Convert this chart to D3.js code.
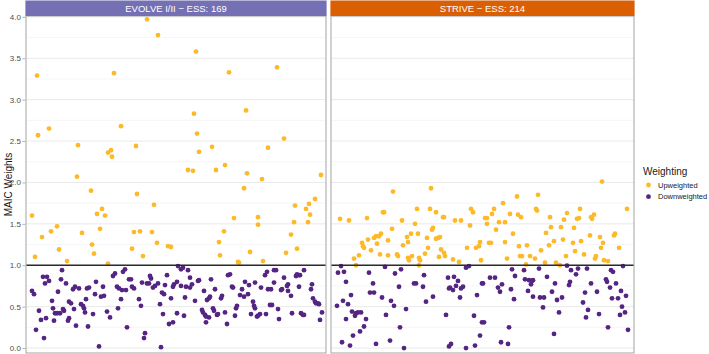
<!DOCTYPE html>
<html>
<head>
<meta charset="utf-8">
<script src="https://cdn.jsdelivr.net/npm/d3@7"></script>
<style>
  body { margin: 0; background: #fff; }
  svg { display: block; font-family: "Liberation Sans", Arial, sans-serif; }
</style>
</head>
<body>
<svg id="chart" width="709" height="354"></svg>
<script>
// facet labels and colours
const trials = ["EVOLVE I/II \u2212 ESS: 169", "STRIVE \u2212 ESS: 214"];
const stripColors = ["#7570B3", "#D95F02"];
const groups = ["Upweighted", "Downweighted"];
const groupColors = ["#FDB927", "#552583"];
const yTicks = [0, 0.5, 1, 1.5, 2, 2.5, 3, 3.5, 4];
const yMinor = [0.25, 0.75, 1.25, 1.75, 2.25, 2.75, 3.25, 3.75];

// [patient position, MAIC weight]
const evolveUp = [
  [11,3.29],[12,2.57],[23,2.65],[6,1.60],[9,1.10],[16,1.34],[25,1.41],[31,1.47],[33,1.19],[41,1.05],
  [52,2.45],[51,2.07],[65,1.90],[56,1.39],[66,1.25],[68,1.14],[71,1.62],[76,1.68],[79,1.60],[74,1.44],
  [82,1.02],[88,3.32],[82,2.36],[85,2.39],[86,2.31],[95,2.68],[110,2.44],[111,1.86],[108,1.40],[114,1.41],
  [106,1.20],[117,1.11],[121,3.97],[132,3.78],[128,1.73],[126,1.40],[131,1.27],[142,1.23],[145,1.22],[170,3.58],
  [168,2.83],[171,2.59],[173,2.37],[162,2.15],[167,2.14],[186,2.43],[190,2.15],[199,2.21],[203,3.33],[220,2.87],
  [221,2.11],[218,1.93],[208,1.57],[198,1.41],[193,1.28],[194,1.12],[212,1.04],[213,1.03],[224,1.16],[232,1.58],
  [232,1.49],[237,1.05],[251,3.39],[258,2.53],[242,2.42],[236,2.04],[269,1.72],[268,1.52],[265,1.37],[260,1.15],
  [271,1.20],[280,1.68],[283,1.74],[284,1.61],[282,1.52],[289,1.80],[295,2.09]
];
const evolveDown = [
  [6,0.69],[8,0.65],[10,0.22],[13,0.45],[15,0.34],[18,0.12],[17,0.86],[19,0.78],[21,0.86],[23,0.81],
  [26,0.57],[27,0.48],[29,0.42],[20,0.36],[28,0.33],[32,0.68],[35,0.83],[36,0.94],[40,0.78],[31,0.42],
  [34,0.42],[37,0.47],[38,0.45],[42,0.33],[43,0.36],[43,0.56],[45,0.54],[48,0.47],[47,0.71],[49,0.74],
  [53,0.72],[50,0.27],[55,0.53],[57,0.51],[58,0.48],[59,0.43],[60,0.59],[61,0.72],[63,0.73],[62,0.26],
  [67,0.41],[69,0.65],[70,0.80],[73,0.02],[75,0.62],[78,0.63],[77,0.74],[81,0.44],[84,0.37],[87,0.87],
  [89,0.90],[91,0.74],[92,0.48],[95,0.59],[93,0.72],[96,0.70],[97,0.92],[99,0.95],[100,0.70],[101,0.25],
  [103,0.83],[105,0.83],[106,0.74],[108,0.72],[113,0.59],[115,0.51],[116,0.79],[119,0.18],[118,0.12],[121,0.78],
  [123,0.78],[124,0.87],[125,0.84],[127,0.73],[129,0.75],[132,0.78],[134,0.53],[135,0.01],[136,0.67],[138,0.65],
  [137,0.41],[139,0.76],[141,0.88],[143,0.29],[147,0.31],[145,0.60],[147,0.74],[148,0.77],[151,0.42],[152,0.99],
  [155,0.95],[157,0.97],[162,0.94],[151,0.80],[155,0.75],[159,0.61],[158,0.39],[164,0.85],[166,0.77],[160,0.74],
  [164,0.73],[169,0.57],[173,0.82],[172,0.81],[176,0.46],[177,0.43],[179,0.40],[180,0.38],[183,0.37],[180,0.31],
  [178,0.69],[181,0.58],[183,0.60],[184,0.62],[185,0.83],[187,0.48],[188,0.45],[191,0.40],[192,0.41],[189,0.71],
  [195,0.60],[196,0.63],[199,0.43],[201,0.29],[202,0.88],[204,0.89],[206,0.74],[207,0.73],[209,0.39],[210,0.48],
  [211,0.51],[214,0.64],[216,0.71],[218,0.62],[219,0.80],[222,0.65],[223,0.76],[225,0.41],[227,0.56],[228,0.51],
  [229,0.48],[229,0.79],[231,0.38],[232,0.39],[234,0.41],[235,0.73],[239,0.88],[241,0.92],[240,0.41],[242,0.71],
  [245,0.71],[244,0.52],[246,0.52],[248,0.79],[248,0.94],[250,0.94],[252,0.47],[253,0.35],[255,0.70],[256,0.71],
  [258,0.85],[261,0.75],[262,0.77],[262,0.69],[265,0.63],[266,0.42],[270,0.87],[271,0.89],[273,0.88],[274,0.88],
  [273,0.74],[275,0.42],[277,0.40],[278,0.40],[278,0.94],[285,0.71],[286,0.77],[287,0.60],[289,0.56],[290,0.54],
  [292,0.54],[293,0.53],[296,0.43],[294,0.34]
];
const striveUp = [
  [9,1.56],[18,1.54],[36,1.57],[62,1.89],[52,1.64],[53,1.64],[100,1.93],[86,1.68],[99,1.68],[105,1.64],
  [112,1.58],[113,1.58],[71,1.54],[84,1.50],[124,1.54],[130,1.54],[140,1.68],[142,1.64],[139,1.48],[102,1.45],
  [101,1.43],[61,1.44],[50,1.38],[48,1.35],[45,1.35],[43,1.33],[80,1.38],[76,1.34],[87,1.38],[37,1.31],
  [57,1.30],[31,1.27],[32,1.23],[33,1.21],[46,1.26],[77,1.28],[72,1.24],[96,1.33],[105,1.32],[109,1.34],
  [107,1.33],[97,1.21],[110,1.19],[113,1.15],[114,1.11],[40,1.18],[49,1.13],[57,1.12],[66,1.13],[67,1.11],
  [77,1.09],[78,1.06],[81,1.11],[88,1.09],[89,1.06],[94,1.14],[108,1.10],[28,1.12],[23,1.08],[25,1.00],
  [88,1.00],[122,1.07],[128,1.04],[136,1.21],[145,1.21],[148,1.23],[149,1.28],[150,1.06],
  [271,2.01],[186,1.83],[207,1.85],[172,1.75],[154,1.57],[156,1.57],[156,1.50],[161,1.62],[163,1.68],[168,1.52],
  [174,1.52],[165,1.43],[179,1.62],[187,1.61],[190,1.58],[182,1.38],[205,1.68],[206,1.66],[219,1.58],[236,1.63],
  [233,1.55],[249,1.68],[246,1.56],[248,1.57],[243,1.45],[260,1.58],[263,1.61],[261,1.56],[230,1.46],[220,1.46],
  [215,1.39],[259,1.36],[284,1.38],[283,1.36],[296,1.68],[269,1.34],[272,1.27],[270,1.21],[288,1.21],[158,1.27],
  [160,1.27],[174,1.28],[188,1.23],[196,1.24],[189,1.11],[191,1.11],[199,1.11],[204,1.08],[210,1.18],[218,1.24],
  [223,1.29],[232,1.31],[242,1.27],[250,1.29],[244,1.17],[235,1.11],[253,1.13],[265,1.11],[264,1.08],[214,1.03],
  [225,1.03],[229,1.00],[195,1.01],[176,1.08],[273,1.06],[277,1.05]
];
const striveDown = [
  [10,0.99],[7,0.91],[13,0.92],[15,0.80],[38,0.91],[54,0.98],[64,0.90],[70,0.95],[42,0.78],[68,0.74],
  [83,0.78],[85,0.78],[93,0.88],[92,0.74],[39,0.67],[43,0.67],[20,0.64],[12,0.57],[6,0.51],[17,0.53],
  [51,0.61],[60,0.57],[63,0.51],[75,0.47],[95,0.56],[102,0.62],[21,0.44],[24,0.39],[25,0.42],[27,0.43],
  [30,0.43],[15,0.35],[35,0.35],[33,0.26],[29,0.20],[22,0.15],[55,0.40],[69,0.25],[11,0.07],[19,0.03],
  [45,0.05],[59,0.09],[73,0.00],[117,0.85],[123,0.86],[127,0.81],[125,0.75],[132,0.74],[130,0.72],[119,0.73],
  [122,0.70],[118,0.72],[129,0.61],[135,0.97],[138,0.99],[151,0.78],[146,0.64],[115,0.40],[143,0.39],[151,0.31],
  [149,0.15],[118,0.02],[120,0.05],[135,0.00],[144,0.03],
  [181,0.95],[193,0.94],[208,0.96],[236,0.995],[240,0.94],[247,0.96],[256,0.96],[280,0.94],[282,0.92],[292,0.99],
  [159,0.85],[164,0.85],[152,0.78],[184,0.87],[194,0.83],[198,0.82],[201,0.81],[202,0.82],[200,0.77],[216,0.86],
  [224,0.78],[245,0.89],[238,0.76],[239,0.80],[167,0.73],[171,0.77],[169,0.68],[180,0.71],[183,0.59],[197,0.69],
  [202,0.62],[209,0.61],[213,0.61],[212,0.49],[221,0.68],[226,0.58],[231,0.61],[228,0.43],[223,0.17],[254,0.67],
  [260,0.78],[266,0.68],[275,0.83],[276,0.80],[279,0.73],[285,0.78],[290,0.69],[295,0.63],[287,0.60],[281,0.60],
  [252,0.55],[257,0.46],[255,0.37],[268,0.41],[291,0.50],[289,0.40],[294,0.43],[153,0.31],[178,0.25],[170,0.07],
  [177,0.05],[277,0.25],[297,0.22]
];

const panelData = [[evolveUp, evolveDown], [striveUp, striveDown]];

// layout
const panelLeft = [26, 331];
const panelWidth = [300, 303];
const plotTop = 16, plotBottom = 353, stripTop = 0.5;

const svg = d3.select("#chart");

const y = d3.scaleLinear()
    .domain([-0.06, 4.01])
    .range([plotBottom, plotTop]);

trials.forEach((label, i) => {
    const x = d3.scaleLinear()
        .domain([0, panelWidth[i]])
        .range([panelLeft[i], panelLeft[i] + panelWidth[i]]);
    const g = svg.append("g");

    // grid
    g.selectAll(".minor")
        .data(yMinor)
        .enter()
        .append("line")
        .attr("x1", x.range()[0]).attr("x2", x.range()[1])
        .attr("y1", d => y(d)).attr("y2", d => y(d))
        .attr("stroke", "#f0f0f0")
        .attr("stroke-width", 0.6);
    g.selectAll(".major")
        .data(yTicks)
        .enter()
        .append("line")
        .attr("x1", x.range()[0]).attr("x2", x.range()[1])
        .attr("y1", d => y(d)).attr("y2", d => y(d))
        .attr("stroke", "#e6e6e6")
        .attr("stroke-width", 0.9);

    // points, one layer per weighting group
    panelData[i].forEach((pts, k) => {
        g.append("g")
            .selectAll("circle")
            .data(pts)
            .enter()
            .append("circle")
            .attr("cx", d => x(d[0]))
            .attr("cy", d => y(d[1]))
            .attr("r", 2.4)
            .attr("fill", groupColors[k]);
    });

    // reference line at weight = 1
    g.append("line")
        .attr("x1", x.range()[0]).attr("x2", x.range()[1])
        .attr("y1", y(1)).attr("y2", y(1))
        .attr("stroke", "#2b2b2b")
        .attr("stroke-width", 1.4);

    // panel border
    g.append("rect")
        .attr("x", x.range()[0]).attr("y", plotTop)
        .attr("width", panelWidth[i]).attr("height", plotBottom - plotTop)
        .attr("fill", "none")
        .attr("stroke", "#b3b3b3")
        .attr("stroke-width", 1.2);

    // facet strip
    g.append("rect")
        .attr("x", x.range()[0] - 0.6).attr("y", stripTop)
        .attr("width", panelWidth[i] + 1.2).attr("height", plotTop - stripTop)
        .attr("fill", stripColors[i]);
    g.append("text")
        .attr("x", x.range()[0] + panelWidth[i] / 2)
        .attr("y", 12)
        .attr("text-anchor", "middle")
        .style("font-size", "9.5px")
        .style("fill", "#ffffff")
        .text(label);
});

// y axis
const yAxis = svg.append("g")
    .attr("transform", `translate(${panelLeft[0] - 0.6},0)`)
    .call(d3.axisLeft(y).tickValues(yTicks).tickFormat(d3.format(".1f")).tickSize(3).tickPadding(1.5));
yAxis.select(".domain").remove();
yAxis.selectAll("line").attr("stroke", "#b3b3b3");
yAxis.selectAll("text")
    .style("font-size", "8px")
    .style("font-family", "\"Liberation Sans\", Arial, sans-serif")
    .attr("fill", "#4d4d4d");

svg.append("text")
    .attr("transform", `translate(12,${(plotTop + plotBottom) / 2}) rotate(-90)`)
    .attr("text-anchor", "middle")
    .style("font-size", "10px")
    .style("fill", "#1a1a1a")
    .text("MAIC Weights");

// legend
const legend = svg.append("g").attr("transform", "translate(643,0)");
legend.append("text")
    .attr("x", 0).attr("y", 175)
    .style("font-size", "10px")
    .style("fill", "#1a1a1a")
    .text("Weighting");
const items = legend.selectAll(".item")
    .data(groups)
    .enter()
    .append("g")
    .attr("transform", (d, i) => `translate(0,${185 + i * 11.7})`);
items.append("circle")
    .attr("cx", 5.5).attr("cy", 0).attr("r", 2.4)
    .attr("fill", (d, i) => groupColors[i]);
items.append("text")
    .attr("x", 15).attr("y", 0)
    .attr("dy", "0.35em")
    .style("font-size", "7.5px")
    .style("fill", "#1a1a1a")
    .text(d => d);
</script>
</body>
</html>
